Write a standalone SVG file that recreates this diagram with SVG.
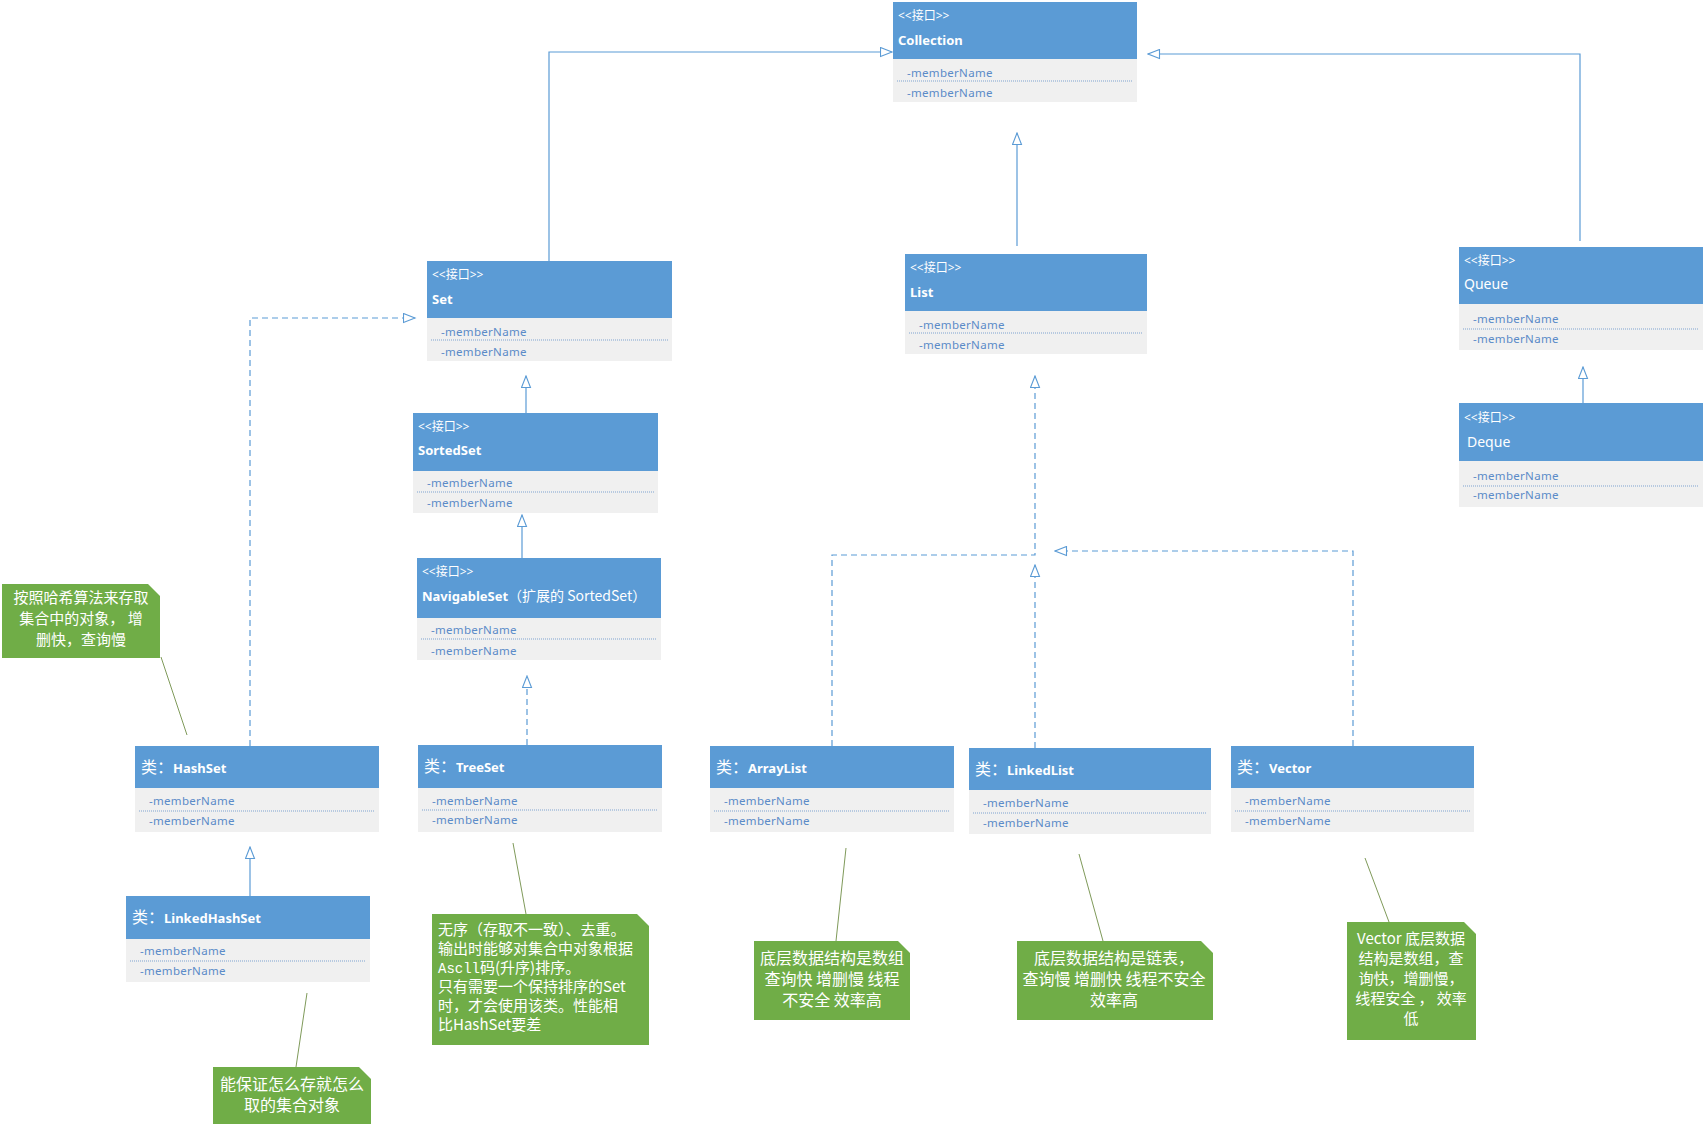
<svg xmlns="http://www.w3.org/2000/svg" width="1705" height="1124" viewBox="0 0 1705 1124">
<style>
.hdr{fill:#5B9BD5}
.body{fill:#F0F0F0}
.st{font-family:"Noto Sans","Noto Sans CJK SC",sans-serif;font-size:12px;fill:#fff}
.nm{font-family:"Noto Sans","Noto Sans CJK SC",sans-serif;font-size:13px;font-weight:bold;fill:#fff}
.nr{font-family:"Noto Sans","Noto Sans CJK SC",sans-serif;font-size:14px;fill:#fff}
.cj{font-family:"Noto Sans CJK SC",sans-serif;font-size:16px;font-weight:normal}
.mb{font-family:"Noto Sans","Noto Sans CJK SC",sans-serif;font-size:11.5px;fill:#5B8BC8;letter-spacing:0.3px}
.sep{stroke:#7FA3D0;stroke-width:1;stroke-dasharray:1 1}
.note{fill:#70AD47}
.nt{font-family:"Noto Sans CJK SC","Noto Sans",sans-serif;font-size:16px;fill:#fff;text-anchor:middle}
.nts{font-family:"Noto Sans CJK SC","Noto Sans",sans-serif;font-size:15px;fill:#fff;text-anchor:middle}
.ntl{font-family:"Noto Sans CJK SC","Noto Sans",sans-serif;font-size:15px;fill:#fff}
.conn{stroke:#5B9BD5;stroke-width:1.2;fill:none}
.dash{stroke-dasharray:6 4}
.nl{stroke:#7F9A5A;stroke-width:1;fill:none}
</style>
<defs>
<marker id="tri" markerUnits="userSpaceOnUse" viewBox="0 0 14 11" markerWidth="14" markerHeight="11" refX="12.5" refY="5.5" orient="auto">
<path d="M1,1 L12.5,5.5 L1,10 Z" fill="#fff" stroke="#5B9BD5" stroke-width="1.1" stroke-dasharray="none"/>
</marker>
</defs>
<rect width="1705" height="1124" fill="#fff"/>

<g id="connectors">
<path class="conn" d="M549,261 V52 H892" marker-end="url(#tri)"/>
<path class="conn" d="M1017,246 V133" marker-end="url(#tri)"/>
<path class="conn" d="M1580,241 V54 H1148" marker-end="url(#tri)"/>
<path class="conn" d="M526,413 V376" marker-end="url(#tri)"/>
<path class="conn" d="M522,558 V515" marker-end="url(#tri)"/>
<path class="conn" d="M1583,403 V367" marker-end="url(#tri)"/>
<path class="conn dash" d="M250,746 V318 H415" marker-end="url(#tri)"/>
<path class="conn" d="M250,896 V847" marker-end="url(#tri)"/>
<path class="conn dash" d="M527,745 V676" marker-end="url(#tri)"/>
<path class="conn dash" d="M832,746 V555 H1035 V376" marker-end="url(#tri)"/>
<path class="conn dash" d="M1035,748 V565" marker-end="url(#tri)"/>
<path class="conn dash" d="M1353,746 V551 H1055" marker-end="url(#tri)"/>
<line class="nl" x1="161" y1="657" x2="187" y2="735"/>
<line class="nl" x1="307" y1="993" x2="296" y2="1067"/>
<line class="nl" x1="513" y1="843" x2="526" y2="914"/>
<line class="nl" x1="846" y1="848" x2="836" y2="941"/>
<line class="nl" x1="1079" y1="854" x2="1103" y2="941"/>
<line class="nl" x1="1365" y1="858" x2="1389" y2="922"/>
</g>

<g id="collection">
<rect class="hdr" x="893" y="2" width="244" height="57"/>
<rect class="body" x="893" y="59" width="244" height="43"/>
<text class="st" x="898" y="20">&lt;&lt;接口&gt;&gt;</text>
<text class="nm" x="898" y="45">Collection</text>
<text class="mb" x="907" y="77">-memberName</text>
<line class="sep" x1="897" y1="81" x2="1133" y2="81"/>
<text class="mb" x="907" y="97">-memberName</text>
</g>

<g id="set">
<rect class="hdr" x="427" y="261" width="245" height="57"/>
<rect class="body" x="427" y="318" width="245" height="43"/>
<text class="st" x="432" y="279">&lt;&lt;接口&gt;&gt;</text>
<text class="nm" x="432" y="304">Set</text>
<text class="mb" x="441" y="336">-memberName</text>
<line class="sep" x1="431" y1="340" x2="668" y2="340"/>
<text class="mb" x="441" y="356">-memberName</text>
</g>

<g id="sortedset">
<rect class="hdr" x="413" y="413" width="245" height="58"/>
<rect class="body" x="413" y="471" width="245" height="42"/>
<text class="st" x="418" y="431">&lt;&lt;接口&gt;&gt;</text>
<text class="nm" x="418" y="455">SortedSet</text>
<text class="mb" x="427" y="487">-memberName</text>
<line class="sep" x1="417" y1="492" x2="654" y2="492"/>
<text class="mb" x="427" y="507">-memberName</text>
</g>

<g id="navigableset">
<rect class="hdr" x="417" y="558" width="244" height="60"/>
<rect class="body" x="417" y="618" width="244" height="42"/>
<text class="st" x="422" y="576">&lt;&lt;接口&gt;&gt;</text>
<text class="nm" x="422" y="601">NavigableSet<tspan font-weight="normal" font-family="Noto Sans CJK SC, sans-serif" font-size="14">（扩展的 SortedSet）</tspan></text>
<text class="mb" x="431" y="634">-memberName</text>
<line class="sep" x1="421" y1="639" x2="657" y2="639"/>
<text class="mb" x="431" y="655">-memberName</text>
</g>

<g id="list">
<rect class="hdr" x="905" y="254" width="242" height="57"/>
<rect class="body" x="905" y="311" width="242" height="43"/>
<text class="st" x="910" y="272">&lt;&lt;接口&gt;&gt;</text>
<text class="nm" x="910" y="297">List</text>
<text class="mb" x="919" y="329">-memberName</text>
<line class="sep" x1="909" y1="333" x2="1143" y2="333"/>
<text class="mb" x="919" y="349">-memberName</text>
</g>

<g id="queue">
<rect class="hdr" x="1459" y="247" width="244" height="57"/>
<rect class="body" x="1459" y="304" width="244" height="46"/>
<text class="st" x="1464" y="265">&lt;&lt;接口&gt;&gt;</text>
<text class="nr" x="1464" y="289">Queue</text>
<text class="mb" x="1473" y="323">-memberName</text>
<line class="sep" x1="1463" y1="329" x2="1699" y2="329"/>
<text class="mb" x="1473" y="343">-memberName</text>
</g>

<g id="deque">
<rect class="hdr" x="1459" y="403" width="244" height="58"/>
<rect class="body" x="1459" y="461" width="244" height="46"/>
<text class="st" x="1464" y="422">&lt;&lt;接口&gt;&gt;</text>
<text class="nr" x="1467" y="447">Deque</text>
<text class="mb" x="1473" y="480">-memberName</text>
<line class="sep" x1="1463" y1="486" x2="1699" y2="486"/>
<text class="mb" x="1473" y="499">-memberName</text>
</g>

<g id="hashset">
<rect class="hdr" x="135" y="746" width="244" height="42"/>
<rect class="body" x="135" y="788" width="244" height="44"/>
<text class="nm" x="141" y="773"><tspan class="cj">类：</tspan>HashSet</text>
<text class="mb" x="149" y="805">-memberName</text>
<line class="sep" x1="139" y1="811" x2="375" y2="811"/>
<text class="mb" x="149" y="825">-memberName</text>
</g>

<g id="linkedhashset">
<rect class="hdr" x="126" y="896" width="244" height="43"/>
<rect class="body" x="126" y="939" width="244" height="43"/>
<text class="nm" x="132" y="923"><tspan class="cj">类：</tspan>LinkedHashSet</text>
<text class="mb" x="140" y="955">-memberName</text>
<line class="sep" x1="130" y1="961" x2="366" y2="961"/>
<text class="mb" x="140" y="975">-memberName</text>
</g>

<g id="treeset">
<rect class="hdr" x="418" y="745" width="244" height="43"/>
<rect class="body" x="418" y="788" width="244" height="44"/>
<text class="nm" x="424" y="772"><tspan class="cj">类：</tspan>TreeSet</text>
<text class="mb" x="432" y="805">-memberName</text>
<line class="sep" x1="422" y1="810" x2="658" y2="810"/>
<text class="mb" x="432" y="824">-memberName</text>
</g>

<g id="arraylist">
<rect class="hdr" x="710" y="746" width="244" height="42"/>
<rect class="body" x="710" y="788" width="244" height="44"/>
<text class="nm" x="716" y="773"><tspan class="cj">类：</tspan>ArrayList</text>
<text class="mb" x="724" y="805">-memberName</text>
<line class="sep" x1="714" y1="811" x2="950" y2="811"/>
<text class="mb" x="724" y="825">-memberName</text>
</g>

<g id="linkedlist">
<rect class="hdr" x="969" y="748" width="242" height="42"/>
<rect class="body" x="969" y="790" width="242" height="44"/>
<text class="nm" x="975" y="775"><tspan class="cj">类：</tspan>LinkedList</text>
<text class="mb" x="983" y="807">-memberName</text>
<line class="sep" x1="973" y1="813" x2="1207" y2="813"/>
<text class="mb" x="983" y="827">-memberName</text>
</g>

<g id="vector">
<rect class="hdr" x="1231" y="746" width="243" height="42"/>
<rect class="body" x="1231" y="788" width="243" height="44"/>
<text class="nm" x="1237" y="773"><tspan class="cj">类：</tspan>Vector</text>
<text class="mb" x="1245" y="805">-memberName</text>
<line class="sep" x1="1235" y1="811" x2="1470" y2="811"/>
<text class="mb" x="1245" y="825">-memberName</text>
</g>

<g id="note-hashset">
<polygon class="note" points="2,584 148,584 160,596 160,658 2,658"/>
<text class="nts" x="81" y="603">按照哈希算法来存取</text>
<text class="nts" x="81" y="624">集合中的对象， 增</text>
<text class="nts" x="81" y="645">删快，查询慢</text>
</g>

<g id="note-linkedhashset">
<polygon class="note" points="213,1067 359,1067 371,1079 371,1124 213,1124"/>
<text class="nt" x="292" y="1090">能保证怎么存就怎么</text>
<text class="nt" x="292" y="1111">取的集合对象</text>
</g>

<g id="note-treeset">
<polygon class="note" points="432,914 637,914 649,926 649,1045 432,1045"/>
<text class="ntl" x="438" y="935">无序（存取不一致）、去重。</text>
<text class="ntl" x="438" y="954">输出时能够对集合中对象根据</text>
<text class="ntl" x="438" y="973"><tspan font-family="Liberation Mono, monospace" font-size="14">Ascll</tspan>码(升序)排序。</text>
<text class="ntl" x="438" y="992">只有需要一个保持排序的Set</text>
<text class="ntl" x="438" y="1011">时，才会使用该类。性能相</text>
<text class="ntl" x="438" y="1030">比HashSet要差</text>
</g>

<g id="note-arraylist">
<polygon class="note" points="754,941 898,941 910,953 910,1020 754,1020"/>
<text class="nt" x="832" y="964">底层数据结构是数组</text>
<text class="nt" x="832" y="985">查询快 增删慢 线程</text>
<text class="nt" x="832" y="1006">不安全 效率高</text>
</g>

<g id="note-linkedlist">
<polygon class="note" points="1017,941 1201,941 1213,953 1213,1020 1017,1020"/>
<text class="nt" x="1114" y="964">底层数据结构是链表，</text>
<text class="nt" x="1114" y="985">查询慢 增删快 线程不安全</text>
<text class="nt" x="1114" y="1006">效率高</text>
</g>

<g id="note-vector">
<polygon class="note" points="1347,922 1464,922 1476,934 1476,1040 1347,1040"/>
<text class="nts" x="1411" y="944">Vector 底层数据</text>
<text class="nts" x="1411" y="964">结构是数组，查</text>
<text class="nts" x="1411" y="984">询快，增删慢，</text>
<text class="nts" x="1411" y="1004">线程安全 ， 效率</text>
<text class="nts" x="1411" y="1024">低</text>
</g>
</svg>
